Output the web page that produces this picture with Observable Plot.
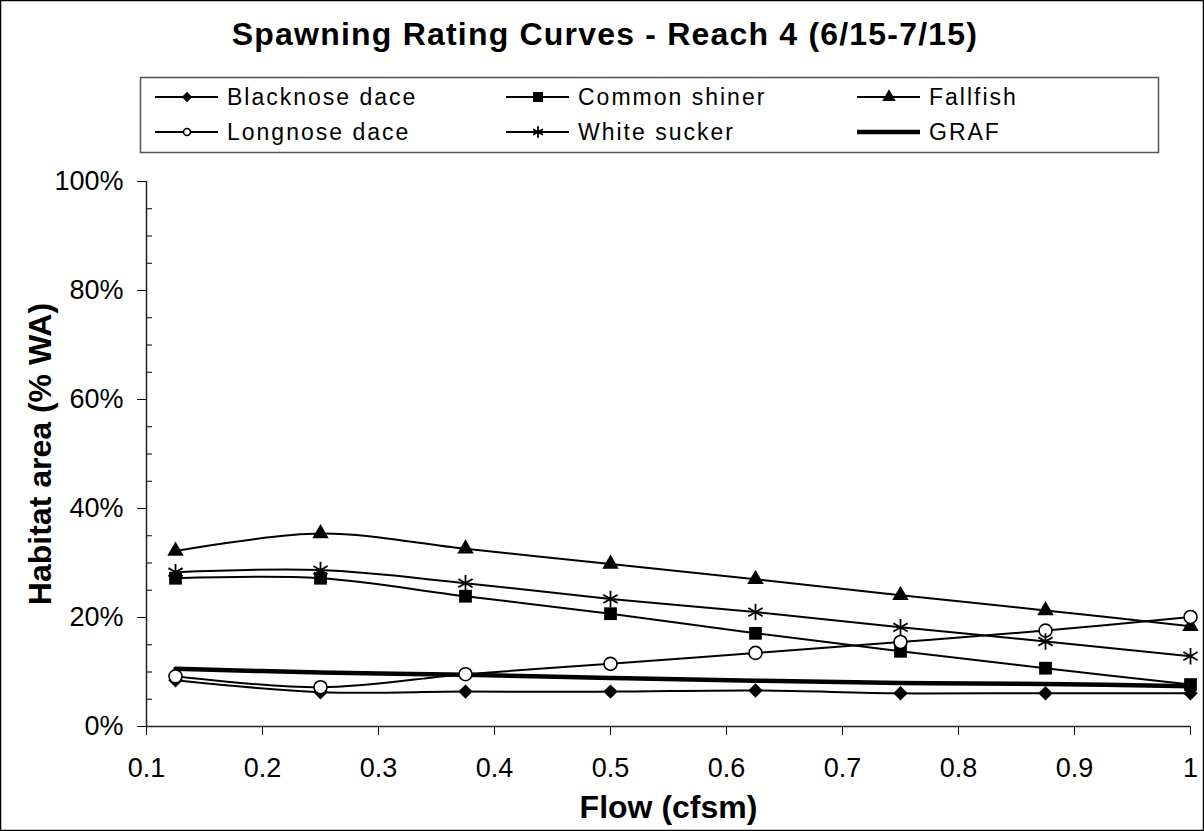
<!DOCTYPE html>
<html><head><meta charset="utf-8">
<script src="https://cdn.jsdelivr.net/npm/d3@7"></script>
<script src="https://cdn.jsdelivr.net/npm/@observablehq/plot@0.6"></script>
<style>
body{margin:0;background:#fff;}
#wrap{position:relative;width:1204px;height:831px;overflow:hidden;font-family:"Liberation Sans",Arial,sans-serif;background:#fff;}
#wrap svg{position:absolute;left:0;top:0;}
</style></head><body><div id="wrap"></div>
<script>
// ---- data ----
const flow = [0.125, 0.25, 0.375, 0.5, 0.625, 0.75, 0.875, 1.0];
const blacknoseDace = [8.5, 6.3, 6.4, 6.4, 6.6, 6.1, 6.1, 6.1];
const commonShiner  = [27.2, 27.2, 23.9, 20.7, 17.1, 13.8, 10.7, 7.7];
const fallfish      = [32.2, 35.4, 32.6, 29.8, 27.0, 24.1, 21.3, 18.4];
const longnoseDace  = [9.2, 7.2, 9.6, 11.5, 13.5, 15.5, 17.6, 20.1];
const whiteSucker   = [28.3, 28.7, 26.3, 23.4, 21.0, 18.2, 15.6, 12.9];
const graf          = [10.6, 9.9, 9.5, 8.9, 8.4, 8.0, 7.8, 7.4];
const xTicks = [0.1, 0.2, 0.3, 0.4, 0.5, 0.6, 0.7, 0.8, 0.9, 1];
const yTicks = [0, 20, 40, 60, 80, 100];
const yMinorTicks = [5, 10, 15, 25, 30, 35, 45, 50, 55, 65, 70, 75, 85, 90, 95];
const title = "Spawning Rating Curves - Reach 4 (6/15-7/15)";
const xTitle = "Flow (cfsm)";
const yTitle = "Habitat area (% WA)";

const series = [
  {name: "Blacknose dace", values: blacknoseDace, symbol: "diamond2", fill: "black", stroke: "none", r: 6.5, lw: 2, lsym: d3.symbolDiamond2, lsize: 70},
  {name: "Common shiner", values: commonShiner, symbol: "square", fill: "black", stroke: "none", r: 7.2, lw: 2, lsym: d3.symbolSquare, lsize: 100},
  {name: "Fallfish", values: fallfish, symbol: "triangle", fill: "black", stroke: "none", r: 6.1, lw: 2, lsym: d3.symbolTriangle, lsize: 80},
  {name: "Longnose dace", values: longnoseDace, symbol: "circle", fill: "white", stroke: "black", r: 6.5, lw: 2, lsym: d3.symbolCircle, lsize: 38},
  {name: "White sucker", values: whiteSucker, symbol: "asterisk", fill: "none", stroke: "black", r: 7.8, lw: 2, lsym: d3.symbolAsterisk, lsize: 90},
  {name: "GRAF", values: graf, symbol: null, lw: 4.5}
];

const font = '"Liberation Sans", Arial, sans-serif';
const W = 1204, H = 831;
const marks = [];
for (const s of series) {
  const data = flow.map((f, i) => ({x: f, y: s.values[i]}));
  marks.push(Plot.line(data, {x: "x", y: "y", curve: "catmull-rom", stroke: "black", strokeWidth: s.lw}));
}
for (const s of series) {
  if (!s.symbol) continue;
  const data = flow.map((f, i) => ({x: f, y: s.values[i]}));
  marks.push(Plot.dot(data, {x: "x", y: "y", symbol: () => s.symbol, r: s.r, fill: s.fill, stroke: s.stroke, strokeWidth: s.symbol === "asterisk" ? 1.8 : 1.6}));
}

const chart = Plot.plot({
  width: W, height: H,
  marginLeft: 146, marginRight: 14, marginTop: 181, marginBottom: 105,
  style: {fontFamily: font, background: "transparent", color: "black"},
  x: {domain: [0.1, 1], type: "linear"},
  y: {domain: [0, 100]},
  symbol: {type: "identity"},
  marks: [
    Plot.axisX({ticks: xTicks, tickSize: 9, tickPadding: 22, fontSize: 27, label: null,
      tickFormat: d => d === 1 ? "1" : d3.format(".1f")(d)}),
    Plot.axisY({ticks: yTicks, tickSize: 9, tickPadding: 14, fontSize: 27, label: null,
      tickFormat: d => d + "%"}),
    Plot.axisY({ticks: yMinorTicks, tickSize: -6, tickFormat: () => "", label: null}),
    Plot.ruleX([xTicks[0]], {stroke: "#222", strokeWidth: 1.5}),
    Plot.ruleY([yTicks[0]], {stroke: "#222", strokeWidth: 1.5}),
    ...marks,
    Plot.text([xTitle], {frameAnchor: "bottom", lineAnchor: "bottom", dy: 91, fontSize: 32, fontWeight: "bold"}),
    Plot.text([yTitle], {frameAnchor: "left", textAnchor: "middle", rotate: -90, dx: -106, fontSize: 32, fontWeight: "bold"})
  ]
});
const wrap = document.getElementById("wrap");
wrap.appendChild(chart);

// ---- overlay: title, legend, border ----
const svg = d3.select(wrap).append("svg").attr("width", W).attr("height", H)
  .style("font-family", font).style("pointer-events", "none");
svg.append("rect").attr("x", 0.5).attr("y", 0.5).attr("width", W - 1).attr("height", H - 1)
  .attr("fill", "none").attr("stroke", "black").attr("stroke-width", 1.5);
svg.append("text").attr("x", 605).attr("y", 44.5).attr("text-anchor", "middle")
  .attr("font-size", 32).attr("font-weight", "bold").attr("letter-spacing", 1.2).text(title);

svg.append("rect").attr("x", 140.5).attr("y", 77.5).attr("width", 1018).attr("height", 75)
  .attr("fill", "white").attr("stroke", "#555").attr("stroke-width", 1.5);
const colX = [155, 506, 857], rowY = [97, 132];
series.forEach((s, i) => {
  const x0 = colX[i % 3], y0 = rowY[Math.floor(i / 3)];
  const g = svg.append("g");
  g.append("line").attr("x1", x0).attr("x2", x0 + 63).attr("y1", y0).attr("y2", y0)
    .attr("stroke", "black").attr("stroke-width", s.lw);
  if (s.lsym) {
    g.append("path").attr("d", d3.symbol(s.lsym, s.lsize)())
      .attr("transform", `translate(${x0 + 32},${y0})`)
      .attr("fill", s.fill).attr("stroke", s.stroke === "none" ? null : s.stroke)
      .attr("stroke-width", s.symbol === "asterisk" ? 1.8 : 1.5);
  }
  g.append("text").attr("x", x0 + 72).attr("y", y0 + 8).attr("font-size", 23)
    .attr("letter-spacing", 2).text(s.name);
});
</script></body></html>
